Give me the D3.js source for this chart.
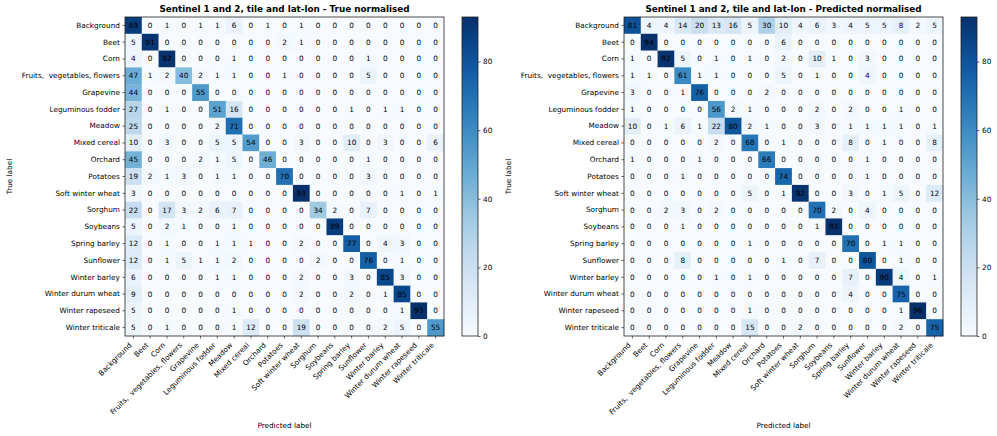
<!DOCTYPE html>
<html>
<head>
<meta charset="utf-8">
<script src="https://cdn.jsdelivr.net/npm/d3@7"></script>
<style>
  html, body { margin: 0; padding: 0; background: #fff; }
  text { font-family: "DejaVu Sans", sans-serif; }
</style>
</head>
<body>
<svg id="chart" width="997" height="436"></svg>
<script>

const LABELS = [
  'Background', 'Beet', 'Corn', 'Fruits,  vegetables, flowers', 'Grapevine',
  'Leguminous fodder', 'Meadow', 'Mixed cereal', 'Orchard', 'Potatoes',
  'Soft winter wheat', 'Sorghum', 'Soybeans', 'Spring barley', 'Sunflower',
  'Winter barley', 'Winter durum wheat', 'Winter rapeseed', 'Winter triticale'
];

const TRUE_NORMALISED = [
  [89, 0, 1, 0, 1, 1, 6, 0, 1, 0, 1, 0, 0, 0, 0, 0, 0, 0, 0],
  [5, 91, 0, 0, 0, 0, 0, 0, 0, 2, 1, 0, 0, 0, 0, 0, 0, 0, 0],
  [4, 0, 92, 0, 0, 0, 1, 0, 0, 0, 0, 0, 0, 0, 1, 0, 0, 0, 0],
  [47, 1, 2, 40, 2, 1, 1, 0, 0, 1, 0, 0, 0, 0, 5, 0, 0, 0, 0],
  [44, 0, 0, 0, 55, 0, 0, 0, 0, 0, 0, 0, 0, 0, 0, 0, 0, 0, 0],
  [27, 0, 1, 0, 0, 51, 16, 0, 0, 0, 0, 0, 0, 1, 0, 1, 1, 0, 0],
  [25, 0, 0, 0, 0, 2, 71, 0, 0, 0, 0, 0, 0, 0, 0, 0, 0, 0, 0],
  [10, 0, 3, 0, 0, 5, 5, 54, 0, 0, 3, 0, 0, 10, 0, 3, 0, 0, 6],
  [45, 0, 0, 0, 2, 1, 5, 0, 46, 0, 0, 0, 0, 0, 1, 0, 0, 0, 0],
  [19, 2, 1, 3, 0, 1, 1, 0, 0, 70, 0, 0, 0, 0, 3, 0, 0, 0, 0],
  [3, 0, 0, 0, 0, 0, 0, 0, 0, 0, 93, 0, 0, 0, 0, 0, 1, 0, 1],
  [22, 0, 17, 3, 2, 6, 7, 0, 0, 0, 0, 34, 2, 0, 7, 0, 0, 0, 0],
  [5, 0, 2, 1, 0, 0, 1, 0, 0, 0, 0, 0, 89, 0, 0, 0, 0, 0, 0],
  [12, 0, 1, 0, 0, 1, 1, 1, 0, 0, 2, 0, 0, 77, 0, 4, 3, 0, 0],
  [12, 0, 1, 5, 1, 1, 2, 0, 0, 0, 0, 2, 0, 0, 76, 0, 1, 0, 0],
  [6, 0, 0, 0, 0, 1, 1, 0, 0, 0, 2, 0, 0, 3, 0, 85, 3, 0, 0],
  [9, 0, 0, 0, 0, 0, 0, 0, 0, 0, 2, 0, 0, 2, 0, 1, 85, 0, 0],
  [5, 0, 0, 0, 0, 0, 1, 0, 0, 0, 0, 0, 0, 0, 0, 0, 1, 93, 0],
  [5, 0, 1, 0, 0, 0, 1, 12, 0, 0, 19, 0, 0, 0, 0, 2, 5, 0, 55]
];

const PREDICTED_NORMALISED = [
  [81, 4, 4, 14, 20, 13, 16, 5, 30, 10, 4, 6, 3, 4, 5, 5, 8, 2, 5],
  [0, 94, 0, 0, 0, 0, 0, 0, 0, 6, 0, 0, 0, 0, 0, 0, 0, 0, 0],
  [1, 0, 92, 5, 0, 1, 0, 1, 0, 2, 0, 10, 1, 0, 3, 0, 0, 0, 0],
  [1, 1, 0, 61, 1, 1, 0, 0, 0, 5, 0, 1, 0, 0, 4, 0, 0, 0, 0],
  [3, 0, 0, 1, 76, 0, 0, 0, 2, 0, 0, 0, 0, 0, 0, 0, 0, 0, 0],
  [1, 0, 0, 0, 0, 56, 2, 1, 0, 0, 0, 2, 0, 2, 0, 0, 1, 0, 0],
  [10, 0, 1, 6, 1, 22, 80, 2, 1, 0, 0, 3, 0, 1, 1, 1, 1, 0, 1],
  [0, 0, 0, 0, 0, 2, 0, 68, 0, 1, 0, 0, 0, 8, 0, 1, 0, 0, 8],
  [1, 0, 0, 0, 1, 0, 0, 0, 66, 0, 0, 0, 0, 0, 1, 0, 0, 0, 0],
  [0, 0, 0, 1, 0, 0, 0, 0, 0, 74, 0, 0, 0, 0, 1, 0, 0, 0, 0],
  [0, 0, 0, 0, 0, 0, 0, 5, 0, 1, 92, 0, 0, 3, 0, 1, 5, 0, 12],
  [0, 0, 2, 3, 0, 2, 0, 0, 0, 0, 0, 70, 2, 0, 4, 0, 0, 0, 0],
  [0, 0, 0, 1, 0, 0, 0, 0, 0, 0, 0, 1, 93, 0, 0, 0, 0, 0, 0],
  [0, 0, 0, 0, 0, 0, 0, 1, 0, 0, 0, 0, 0, 70, 0, 1, 1, 0, 0],
  [0, 0, 0, 8, 0, 0, 0, 0, 0, 1, 0, 7, 0, 0, 80, 0, 1, 0, 0],
  [0, 0, 0, 0, 0, 1, 0, 1, 0, 0, 0, 0, 0, 7, 0, 90, 4, 0, 1],
  [0, 0, 0, 0, 0, 0, 0, 0, 0, 0, 0, 0, 0, 4, 0, 0, 75, 0, 0],
  [0, 0, 0, 0, 0, 0, 0, 1, 0, 0, 0, 0, 0, 0, 0, 0, 1, 96, 0],
  [0, 0, 0, 0, 0, 0, 0, 15, 0, 0, 2, 0, 0, 0, 0, 0, 2, 0, 75]
];

const COLORBAR_TICKS = [0, 20, 40, 60, 80];

const FONT_SIZE = 7.3;
const TICK = 2.55;


/**
 * One confusion matrix with its colorbar.
 * @class
 */
class ConfusionMatrix {

  /**
   * @param {Object} opts
   */
  constructor(opts) {

    this._left = opts.left;
    this._top = opts.top;
    this._size = opts.size;
    this._title = opts.title;
    this._data = opts.data;

    const n = LABELS.length;
    // both colorbars in the picture run to the same top value
    const vmax = opts.vmax || d3.max(this._data, row => d3.max(row));

    this._x = d3.scaleBand()
      .domain(d3.range(n))
      .range([this._left, this._left + this._size]);

    this._y = d3.scaleBand()
      .domain(d3.range(n))
      .range([this._top, this._top + this._size]);

    this._color = d3.scaleSequential(d3.interpolateBlues)
      .domain([0, vmax])
      .clamp(true);

    this._cbar = d3.scaleLinear()
      .domain([0, vmax])
      .range([this._top + this._size, this._top]);
  }


  /**
   * @param {SVGElement} svg
   * @param {String} id
   */
  renderTo(svg, id) {

    const g = d3.select(svg).append('g');
    const x = this._x;
    const y = this._y;
    const cells = [];

    this._data.forEach((row, i) => row.forEach((v, j) => cells.push({ i, j, v })));

    g.append('g')
      .selectAll('rect')
      .data(cells)
      .join('rect')
      .attr('x', d => x(d.j))
      .attr('y', d => y(d.i))
      .attr('width', x.bandwidth() + 0.3)
      .attr('height', y.bandwidth() + 0.3)
      .attr('fill', d => this._color(d.v));

    g.append('g')
      .selectAll('text')
      .data(cells)
      .join('text')
      .attr('x', d => x(d.j) + x.bandwidth() / 2)
      .attr('y', d => y(d.i) + y.bandwidth() / 2)
      .attr('text-anchor', 'middle')
      .attr('dominant-baseline', 'central')
      .attr('font-size', FONT_SIZE)
      .attr('fill', '#000')
      .text(d => d.v);

    // y axis
    const yAxis = g.append('g')
      .attr('transform', `translate(${this._left},0)`)
      .call(d3.axisLeft(y).tickSize(TICK).tickPadding(TICK).tickFormat(i => LABELS[i]));

    yAxis.select('.domain').remove();
    yAxis.selectAll('text')
      .attr('font-size', FONT_SIZE)
      .attr('font-family', '"DejaVu Sans", sans-serif')
      .style('white-space', 'pre');

    // x axis
    const xAxis = g.append('g')
      .attr('transform', `translate(0,${this._top + this._size})`)
      .call(d3.axisBottom(x).tickSize(TICK).tickPadding(0).tickFormat(i => LABELS[i]));

    xAxis.select('.domain').remove();
    xAxis.selectAll('text')
      .attr('font-size', FONT_SIZE)
      .attr('font-family', '"DejaVu Sans", sans-serif')
      .style('white-space', 'pre')
      .attr('text-anchor', 'end')
      .attr('dy', null)
      .attr('y', 0)
      .attr('transform', 'translate(-1.2,9.6) rotate(-45)');

    g.selectAll('.tick line').attr('stroke', '#000').attr('stroke-width', 0.6);

    // frame
    g.append('rect')
      .attr('x', this._left)
      .attr('y', this._top)
      .attr('width', this._size)
      .attr('height', this._size)
      .attr('fill', 'none')
      .attr('stroke', '#222')
      .attr('stroke-width', 0.8);

    g.append('text')
      .attr('x', this._left + this._size / 2)
      .attr('y', this._top - 5)
      .attr('text-anchor', 'middle')
      .attr('font-size', 8.8)
      .attr('font-weight', 'bold')
      .text(this._title);

    g.append('text')
      .attr('transform', `translate(${this._left - 116},${this._top + this._size / 2}) rotate(-90)`)
      .attr('text-anchor', 'middle')
      .attr('dominant-baseline', 'central')
      .attr('font-size', FONT_SIZE)
      .text('True label');

    g.append('text')
      .attr('x', this._left + this._size / 2)
      .attr('y', 428)
      .attr('text-anchor', 'middle')
      .attr('font-size', FONT_SIZE)
      .text('Predicted label');

    this._renderColorbar(g, id);
  }


  /**
   * @private
   */
  _renderColorbar(g, id) {

    const cx = this._left + 337;
    const cw = 16;
    const grad = d3.select('#defs')
      .append('linearGradient')
      .attr('id', id)
      .attr('x1', 0).attr('y1', 1)
      .attr('x2', 0).attr('y2', 0);

    grad.selectAll('stop')
      .data(d3.range(0, 1.0001, 0.05))
      .join('stop')
      .attr('offset', t => t)
      .attr('stop-color', t => d3.interpolateBlues(t));

    g.append('rect')
      .attr('x', cx)
      .attr('y', this._top)
      .attr('width', cw)
      .attr('height', this._size)
      .attr('fill', `url(#${id})`)
      .attr('stroke', '#222')
      .attr('stroke-width', 0.8);

    const axis = g.append('g')
      .attr('transform', `translate(${cx + cw},0)`)
      .call(d3.axisRight(this._cbar).tickValues(COLORBAR_TICKS).tickSize(TICK).tickPadding(TICK));

    axis.select('.domain').remove();
    axis.selectAll('text')
      .attr('font-size', FONT_SIZE)
      .attr('font-family', '"DejaVu Sans", sans-serif');
    axis.selectAll('.tick line').attr('stroke', '#000').attr('stroke-width', 0.6);
  }
}


const svg = document.getElementById('chart');
d3.select(svg).append('defs').attr('id', 'defs');

new ConfusionMatrix({
  left: 125, top: 17, size: 319,
  title: 'Sentinel 1 and 2, tile and lat-lon - True normalised',
  data: TRUE_NORMALISED
}).renderTo(svg, 'cbar-true');

new ConfusionMatrix({
  left: 624, top: 17, size: 319, vmax: 93,
  title: 'Sentinel 1 and 2, tile and lat-lon - Predicted normalised',
  data: PREDICTED_NORMALISED
}).renderTo(svg, 'cbar-pred');

</script>
</body>
</html>
